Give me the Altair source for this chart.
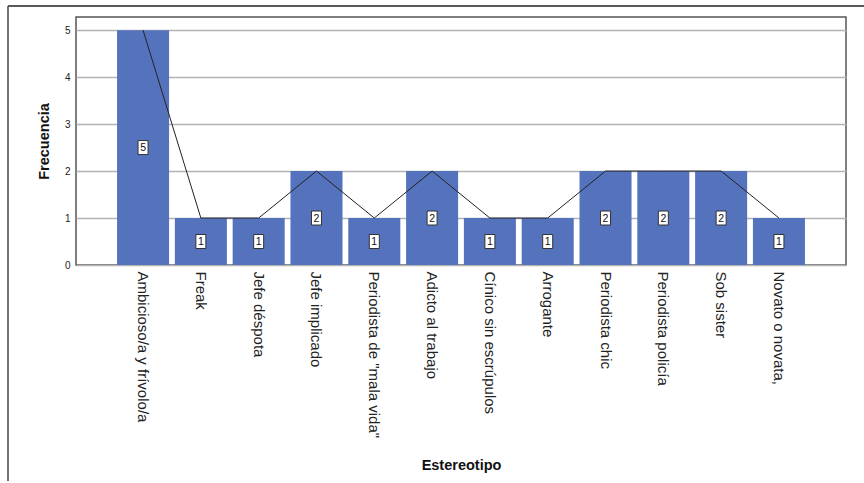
import altair as alt
import pandas as pd

# Frequency of each stereotype
categories = [
    "Ambicioso/a y frívolo/a",
    "Freak",
    "Jefe déspota",
    "Jefe implicado",
    'Periodista de "mala vida"',
    "Adicto al trabajo",
    "Cínico sin escrúpulos",
    "Arrogante",
    "Periodista chic",
    "Periodista policía",
    "Sob sister",
    "Novato o novata,",
]
values = [5, 1, 1, 2, 1, 2, 1, 1, 2, 2, 2, 1]
y_ticks = [0, 1, 2, 3, 4, 5]

df = pd.DataFrame({"Estereotipo": categories, "Frecuencia": values})

FONT = "Liberation Sans"
BAR = "#5572bd"
W, H = 770, 248

x_enc = alt.X(
    "Estereotipo:N",
    sort=categories,
    scale=alt.Scale(paddingInner=0.1, paddingOuter=0.71),
    axis=alt.Axis(
        title="Estereotipo",
        labelAngle=90,
        labelFontSize=15,
        labelColor="#222222",
        labelPadding=6,
        labelLimit=300,
        ticks=False,
        domain=False,
        titleFontSize=14.5,
        titleFontWeight="bold",
        titleColor="#111111",
        titleY=200,
        titleBaseline="middle",
    ),
)
y_scale = alt.Scale(domain=[0, 5.28], nice=False)

base = alt.Chart(df)

bars = base.mark_bar(color=BAR).encode(
    x=x_enc,
    y=alt.Y(
        "Frecuencia:Q",
        scale=y_scale,
        axis=alt.Axis(
            title="Frecuencia",
            values=y_ticks,
            format="d",
            labelFontSize=10,
            labelColor="#222222",
            labelPadding=6,
            ticks=False,
            domain=False,
            grid=True,
            gridColor="#b3b3b3",
            gridWidth=1.5,
            titleFontSize=14.5,
            titleFontWeight="bold",
            titleColor="#111111",
            titleX=-32,
            titleY=124,
            titleAngle=-90,
            titleAlign="center",
            titleBaseline="middle",
        ),
    ),
)

line = base.mark_line(color="#222222", strokeWidth=1).encode(
    x=alt.X("Estereotipo:N", sort=categories),
    y=alt.Y("Frecuencia:Q", scale=y_scale),
)

mid = base.transform_calculate(mid="datum.Frecuencia / 2")

boxes = mid.mark_point(
    shape="M-0.714,-1L0.714,-1L0.714,1L-0.714,1Z",
    size=196,
    filled=True,
    fill="white",
    stroke="#333333",
    strokeWidth=1,
    opacity=1,
).encode(
    x=alt.X("Estereotipo:N", sort=categories),
    y=alt.Y("mid:Q", scale=y_scale),
)

labels = mid.mark_text(
    font=FONT, fontSize=10.5, color="#111111", baseline="middle", dy=0.5
).encode(
    x=alt.X("Estereotipo:N", sort=categories),
    y=alt.Y("mid:Q", scale=y_scale),
    text=alt.Text("Frecuencia:Q", format="d"),
)

# Outer frame lines (top and left edge of the figure)
frame_top = alt.Chart().mark_rule(color="#222222", strokeWidth=1.5).encode(
    x=alt.value(-68), x2=alt.value(W + 18), y=alt.value(-11)
)
frame_left = alt.Chart().mark_rule(color="#444444", strokeWidth=1.5).encode(
    x=alt.value(-68), y=alt.value(-11), y2=alt.value(H + 216)
)

chart = (
    alt.layer(bars, line, boxes, labels, frame_top, frame_left)
    .properties(
        width=W,
        height=H,
        autosize=alt.AutoSizeParams(type="none"),
        padding={"left": 76, "top": 17, "right": 18, "bottom": 218},
        background="white",
    )
    .configure_view(stroke="#555555", strokeWidth=1.5)
    .configure_axis(labelFont=FONT, titleFont=FONT)
)

chart.save("out.html", embed_options={"renderer": "svg", "actions": False})
